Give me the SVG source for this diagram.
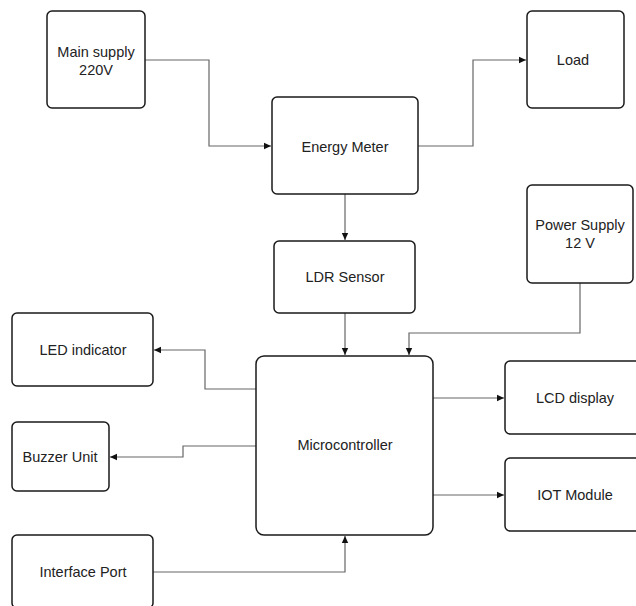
<svg xmlns="http://www.w3.org/2000/svg" width="636" height="606" viewBox="0 0 636 606">
<style>
.box{fill:#fff;stroke:#1a1a1a;stroke-width:1.5}
.lbl{font-family:"Liberation Sans",Arial,sans-serif;font-size:14.5px;fill:#222;text-anchor:middle;dominant-baseline:central}
.con{fill:none;stroke:#666;stroke-width:1.2}
</style>
<defs>
<marker id="ah" markerWidth="8" markerHeight="8" refX="7" refY="4" orient="auto" markerUnits="userSpaceOnUse">
<path d="M0,0.8 L7,4 L0,7.2 Z" fill="#111"/>
</marker>
</defs>
<rect width="636" height="606" fill="#fff"/>
<g id="connectors">
<path class="con" d="M145,60 H209 V146 H271" marker-end="url(#ah)"/>
<path class="con" d="M418,146 H473 V60 H526" marker-end="url(#ah)"/>
<path class="con" d="M345,194 V240" marker-end="url(#ah)"/>
<path class="con" d="M345,313 V355" marker-end="url(#ah)"/>
<path class="con" d="M580,283 V333 H409 V355" marker-end="url(#ah)"/>
<path class="con" d="M256,389 H205 V350 H154" marker-end="url(#ah)"/>
<path class="con" d="M256,446 H183 V457 H110" marker-end="url(#ah)"/>
<path class="con" d="M153,572 H345 V536" marker-end="url(#ah)"/>
<path class="con" d="M433,398 H504" marker-end="url(#ah)"/>
<path class="con" d="M433,495 H504" marker-end="url(#ah)"/>
</g>
<g id="main-supply"><rect class="box" x="47" y="11" width="98" height="97" rx="5"/><text class="lbl" x="96" y="52">Main supply</text><text class="lbl" x="96" y="70">220V</text></g>
<g id="energy-meter"><rect class="box" x="272" y="97" width="146" height="97" rx="5"/><text class="lbl" x="345" y="147">Energy Meter</text></g>
<g id="load"><rect class="box" x="527" y="11" width="97" height="97" rx="5"/><text class="lbl" x="573" y="60">Load</text></g>
<g id="ldr-sensor"><rect class="box" x="274" y="241" width="141" height="72" rx="5"/><text class="lbl" x="345" y="277">LDR Sensor</text></g>
<g id="power-supply"><rect class="box" x="527" y="185" width="106" height="98" rx="5"/><text class="lbl" x="580" y="225">Power Supply</text><text class="lbl" x="580" y="243">12 V</text></g>
<g id="microcontroller"><rect class="box" x="256" y="356" width="177" height="179" rx="8"/><text class="lbl" x="345" y="445">Microcontroller</text></g>
<g id="led-indicator"><rect class="box" x="12" y="313" width="141" height="73" rx="5"/><text class="lbl" x="83" y="350">LED indicator</text></g>
<g id="buzzer-unit"><rect class="box" x="12" y="422" width="97" height="69" rx="5"/><text class="lbl" x="60" y="457">Buzzer Unit</text></g>
<g id="interface-port"><rect class="box" x="12" y="535" width="141" height="73" rx="5"/><text class="lbl" x="83" y="572">Interface Port</text></g>
<g id="lcd-display"><rect class="box" x="505" y="361" width="141" height="73" rx="5"/><text class="lbl" x="575" y="398">LCD display</text></g>
<g id="iot-module"><rect class="box" x="505" y="458" width="141" height="73" rx="5"/><text class="lbl" x="575" y="495">IOT Module</text></g>
</svg>
